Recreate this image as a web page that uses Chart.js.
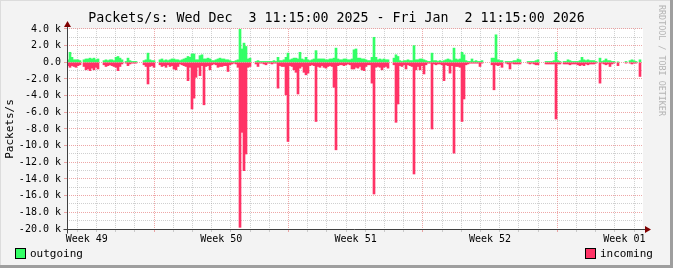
<!DOCTYPE html>
<html>
<head>
<meta charset="utf-8">
<title>Packets/s</title>
<script src="https://cdn.jsdelivr.net/npm/chart.js@4.4.0/dist/chart.umd.min.js"></script>
<style>
  html, body { margin: 0; padding: 0; background: #f3f3f3; }
  #wrap { position: relative; width: 673px; height: 268px; overflow: hidden; }
  #wrap canvas { position: absolute; left: 0; top: 0; }
  .legend { position: absolute; top: 248px; font: 11px 'DejaVu Sans Mono', monospace; color: #000; line-height: 12px; white-space: nowrap; }
  .legend .box { display: inline-block; width: 11px; height: 11px; box-sizing: border-box; border: 1px solid #000; vertical-align: -2px; margin-right: 4px; }
  #credit { position: absolute; left: 657px; top: 5px; font: 8.4px 'DejaVu Sans Mono', monospace; color: #b4b4b4; writing-mode: vertical-rl; white-space: nowrap; }
</style>
</head>
<body>
<div id="wrap">
  <canvas id="packetsChart" width="673" height="268"></canvas>
  <div class="legend" style="left:15px"><span class="box" style="background:#33ff66"></span>outgoing</div>
  <div class="legend" style="left:585px"><span class="box" style="background:#ff3366"></span>incoming</div>
  <div id="credit">RRDTOOL / TOBI OETIKER</div>
</div>
<script>
// Packets/s, Wed Dec 3 11:15 2025 - Fri Jan 2 11:15 2026, one value per 2.5 h slot (in k)
const outgoing = [
  0.3, 1.2, 0.6, 0.3, 0.3, 0.3, 0.2, null, 0.3, 0.4, 0.4, 0.5, 0.4, 0.5, 0.3, 0.4,
  null, null, 0.2, 0.3, 0.2, 0.3, 0.3, 0.2, 0.6, 0.7, 0.5, 0.3, null, 0.1, 0.5, 0.2,
  0.1, 0.1, 0.1, null, null, null, 0.2, 0.3, 1.1, 0.3, 0.2, 0.2, null, null, 0.3, 0.4,
  0.2, 0.3, 0.2, 0.3, 0.4, 0.4, 0.3, 0.3, 0.2, 0.3, 0.4, 0.5, 0.7, 0.6, 1.0, 1.0,
  0.3, 0.3, 0.8, 0.9, 0.4, 0.4, 0.5, 0.4, 0.2, 0.2, 0.3, 0.4, 0.5, 0.4, 0.4, 0.3,
  0.3, 0.2, 0.1, 0.1, 0.2, 0.3, 4.0, 1.6, 2.3, 1.9, 0.4, 0.5, null, null, 0.1, 0.2,
  0.1, 0.1, 0.1, 0.1, 0.1, 0.1, 0.1, 0.2, 0.1, 0.6, 0.2, 0.2, 0.3, 0.6, 1.1, 0.3,
  0.4, 0.5, 0.5, 0.4, 1.2, 0.4, 0.3, 0.6, 0.3, 0.2, 0.3, 0.4, 1.4, 0.4, 0.4, 0.4,
  0.4, 0.3, 0.3, 0.4, 0.4, 0.5, 1.7, 0.4, 0.3, 0.3, 0.4, 0.4, 0.3, 0.3, 0.4, 1.5,
  1.6, 0.5, 0.5, 0.4, 0.4, 0.3, 0.2, 0.2, 0.6, 3.0, 0.6, 0.3, 0.4, 0.3, 0.4, 0.3,
  0.3, null, null, 0.5, 0.9, 0.7, 0.2, 0.1, 0.2, 0.2, 0.3, 0.2, 0.2, 2.0, 0.3, 0.3,
  0.4, 0.4, 0.3, 0.2, 0.1, 0.1, 1.1, 0.2, 0.2, 0.1, 0.2, 0.1, 0.2, 0.3, 0.4, 0.3,
  0.2, 1.7, 0.4, 0.3, 0.4, 1.2, 0.9, 0.2, 0.1, 0.1, 0.4, 0.1, 0.2, 0.1, 0.1, 0.2,
  null, null, null, null, 0.5, 0.5, 3.3, 0.3, 0.2, 0.2, null, 0.1, 0.1, 0.1, 0.1, 0.2,
  0.2, 0.4, 0.3, null, null, null, 0.1, 0.1, 0.1, 0.1, 0.2, 0.3, null, null, null, 0.1,
  0.1, 0.1, 0.1, 0.2, 1.2, 0.2, 0.1, null, 0.1, 0.1, 0.3, 0.2, 0.1, 0.1, 0.1, 0.1,
  0.2, 0.6, 0.3, 0.2, 0.3, 0.2, 0.2, 0.2, 0.1, null, 0.5, 0.1, 0.2, 0.4, 0.2, 0.2,
  0.1, 0.1, null, 0.05, null, null, null, 0.1, null, 0.2, 0.3, 0.2, 0.1, null, 0.3, null
];
const incoming = [
  -0.4, -0.6, -0.4, -0.5, -0.6, -0.4, -0.3, null, -0.5, -0.9, -0.8, -1.0, -0.7, -0.9, -0.6, -0.8,
  null, null, -0.3, -0.5, -0.4, -0.3, -0.4, -0.5, -0.6, -1.0, -0.5, -0.2, null, -0.1, -0.4, -0.2,
  -0.1, -0.1, -0.1, null, null, null, -0.3, -0.5, -2.6, -0.5, -0.4, -0.6, null, null, -0.3, -0.5,
  -0.4, -0.6, -0.3, -0.5, -0.4, -0.8, -0.9, -0.5, -0.2, -0.3, -0.4, -0.5, -2.2, -0.6, -5.6, -4.3,
  -1.8, -0.6, -1.6, -0.4, -5.1, -0.5, -0.4, -0.9, -0.3, -0.2, -0.3, -0.6, -0.5, -0.5, -0.4, -0.4,
  -1.1, -0.3, -0.2, -0.1, -0.2, -0.6, -19.8, -8.4, -13.0, -11.0, -0.6, -0.5, null, null, -0.2, -0.5,
  -0.1, -0.1, -0.2, -0.3, -0.1, -0.1, -0.2, -0.1, -0.1, -3.1, -0.4, -0.5, -0.5, -3.9, -9.5, -0.4,
  -0.5, -0.9, -1.2, -3.8, -0.7, -0.5, -1.2, -1.5, -1.3, -0.4, -0.3, -0.4, -7.1, -0.5, -0.6, -0.4,
  -0.6, -0.7, -0.5, -0.4, -0.5, -3.0, -10.5, -0.4, -0.3, -0.3, -0.4, -0.3, -0.2, -0.3, -0.8, -0.8,
  -0.6, -0.7, -0.5, -0.9, -1.0, -0.5, -0.3, -0.3, -2.5, -15.8, -0.6, -0.5, -0.6, -0.9, -0.6, -0.5,
  -0.7, null, null, -0.3, -7.2, -5.0, -0.4, -0.5, -0.3, -0.8, -0.3, -0.4, -0.5, -13.4, -0.9, -0.5,
  -0.9, -0.4, -1.4, -0.3, -0.1, -0.1, -8.0, -0.2, -0.3, -0.2, -0.2, -0.3, -2.2, -0.3, -0.4, -1.3,
  -0.4, -10.9, -0.5, -0.5, -0.6, -7.1, -4.4, -0.3, -0.2, -0.1, -0.1, -0.1, -0.1, -0.1, -0.5, -0.1,
  null, null, null, null, -0.3, -3.3, -0.3, -0.4, -0.3, -0.6, null, -0.1, -0.2, -0.8, -0.1, -0.2,
  -0.2, -0.2, -0.2, null, null, null, -0.1, -0.2, -0.1, -0.2, -0.3, -0.3, null, null, null, -0.2,
  -0.2, -0.2, -0.2, -0.2, -6.8, -0.2, -0.2, null, -0.2, -0.2, -0.2, -0.3, -0.2, -0.2, -0.2, -0.3,
  -0.4, -0.3, -0.4, -0.2, -0.3, -0.2, -0.2, -0.2, -0.1, null, -2.5, -0.1, -0.2, -0.3, -0.2, -0.5,
  -0.2, -0.1, null, -0.4, null, null, null, -0.1, null, -0.1, -0.2, -0.1, -0.1, null, -1.7, null
];

// x axis is hours since Wed Dec 3 11:15; slot centres every 2.5 h
const slotHours = outgoing.map((_, i) => i * 2.5 + 1.25);
const totalHours = 720;
const firstMidnight = 12.75;                       // Thu Dec 4 00:00
const weekStartHours = [108.75, 276.75, 444.75, 612.75]; // Mondays 00:00
const weekLabels = ['Week 49', 'Week 50', 'Week 51', 'Week 52', 'Week 01'];
const weekLabelHours = [24.75, 192.75, 360.75, 528.75, 696.75];
const yLabelStep = 2;  // k
const yGridStep = 1;   // k

const monoFont = "'DejaVu Sans Mono', monospace";
const minorGrid = 'rgba(150, 150, 150, 0.45)';
const majorGrid = 'rgba(222, 80, 80, 0.5)';

const dayHours = [];
for (let h = firstMidnight; h < totalHours; h += 24) dayHours.push(h);
const xTickHours = dayHours.concat(weekLabelHours).sort((a, b) => a - b);

function xGridColor(v) {
  if (weekStartHours.includes(v)) return majorGrid;
  if (dayHours.includes(v)) return minorGrid;
  return 'rgba(0,0,0,0)';
}

const rrdFrame = {
  id: 'rrdFrame',
  beforeDraw(chart) {
    const { ctx, chartArea: a, width, height } = chart;
    ctx.save();
    ctx.fillStyle = '#f3f3f3';
    ctx.fillRect(0, 0, width, height);
    ctx.fillStyle = '#ffffff';
    ctx.fillRect(a.left, a.top, a.right - a.left, a.bottom - a.top);
    ctx.fillStyle = '#dcdcdc';
    ctx.fillRect(0, 0, width, 1);
    ctx.fillRect(0, 0, 1, height);
    ctx.fillStyle = '#9e9e9e';
    ctx.fillRect(width - 3, 0, 3, height);
    ctx.fillRect(0, height - 3, width, 3);
    ctx.restore();
  },
  afterDraw(chart) {
    const { ctx, chartArea: a } = chart;
    const x0 = Math.round(a.left) + 0.5;
    const y0 = Math.round(a.bottom) + 0.5;
    ctx.save();
    ctx.strokeStyle = '#404040';
    ctx.lineWidth = 1;
    ctx.beginPath();
    ctx.moveTo(x0, y0 + 4);
    ctx.lineTo(x0, a.top - 4);
    ctx.moveTo(x0 - 4, y0);
    ctx.lineTo(a.right + 3, y0);
    ctx.stroke();
    // arrow heads
    ctx.fillStyle = '#800000';
    ctx.beginPath();
    ctx.moveTo(x0, a.top - 8);
    ctx.lineTo(x0 - 3.5, a.top - 2);
    ctx.lineTo(x0 + 3.5, a.top - 2);
    ctx.closePath();
    ctx.fill();
    ctx.beginPath();
    ctx.moveTo(a.right + 8, y0);
    ctx.lineTo(a.right + 2, y0 - 3.5);
    ctx.lineTo(a.right + 2, y0 + 3.5);
    ctx.closePath();
    ctx.fill();
    ctx.restore();
  }
};

new Chart(document.getElementById('packetsChart'), {
  type: 'bar',
  data: {
    labels: slotHours,
    datasets: [
      {
        label: 'outgoing',
        data: outgoing,
        backgroundColor: '#33ff66',
        borderWidth: 0,
        grouped: false,
        barPercentage: 1,
        categoryPercentage: 1
      },
      {
        label: 'incoming',
        data: incoming,
        backgroundColor: '#ff3366',
        borderWidth: 0,
        grouped: false,
        barPercentage: 1,
        categoryPercentage: 1
      }
    ]
  },
  options: {
    responsive: false,
    animation: false,
    events: [],
    layout: { padding: 0 },
    scales: {
      x: {
        type: 'linear',
        min: 0,
        max: totalHours,
        offset: false,
        afterBuildTicks(scale) {
          scale.ticks = xTickHours.map(v => ({ value: v }));
        },
        afterFit(scale) { scale.height = 39; },
        ticks: {
          autoSkip: false,
          maxRotation: 0,
          padding: 1,
          color: '#000',
          font: { family: monoFont, size: 10 },
          callback(v) {
            const k = weekLabelHours.indexOf(v);
            return k >= 0 ? weekLabels[k] : '';
          }
        },
        grid: {
          offset: false,
          color: c => xGridColor(c.tick.value),
          tickColor: c => xGridColor(c.tick.value),
          tickLength: 3
        },
        border: { display: false, dash: [1, 1] }
      },
      y: {
        min: -20,
        max: 4,
        afterBuildTicks(scale) {
          const t = [];
          for (let v = -20; v <= 4; v += yGridStep) t.push({ value: v });
          scale.ticks = t;
        },
        afterFit(scale) { scale.width = 67; },
        ticks: {
          autoSkip: false,
          padding: 3,
          color: '#000',
          font: { family: monoFont, size: 10 },
          callback(v) {
            if (v % yLabelStep !== 0) return '';
            return v === 0 ? '0.0' : v.toFixed(1) + ' k';
          }
        },
        grid: {
          color: c => (c.tick.value % yLabelStep === 0 ? majorGrid : minorGrid),
          tickColor: c => (c.tick.value % yLabelStep === 0 ? majorGrid : 'rgba(0,0,0,0)'),
          tickLength: 3
        },
        border: { display: false, dash: [1, 1] },
        title: {
          display: true,
          text: 'Packets/s',
          color: '#000',
          font: { family: monoFont, size: 11 },
          padding: { top: 4, bottom: 0 }
        }
      },
      // empty right-hand strip, keeps the title centred on the whole image
      yRight: {
        position: 'right',
        min: -20,
        max: 4,
        afterFit(scale) { scale.width = 30; },
        ticks: { display: false },
        grid: { display: false },
        border: { display: false }
      }
    },
    plugins: {
      legend: { display: false },
      tooltip: { enabled: false },
      title: {
        display: true,
        text: 'Packets/s: Wed Dec  3 11:15:00 2025 - Fri Jan  2 11:15:00 2026',
        color: '#000',
        font: { family: monoFont, size: 13.3, weight: 'normal', lineHeight: 1.2 },
        padding: { top: 10.8, bottom: 2.2 }
      }
    }
  },
  plugins: [rrdFrame]
});
</script>
</body>
</html>
